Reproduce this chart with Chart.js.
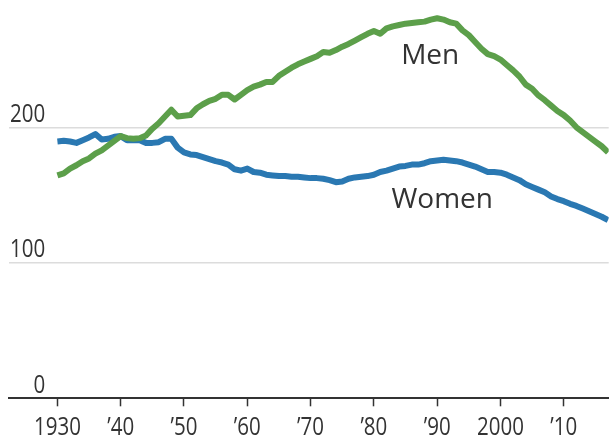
<!DOCTYPE html>
<html><head><meta charset="utf-8">
<script src="https://cdn.jsdelivr.net/npm/chart.js@4"></script>
<style>html,body{margin:0;padding:0;background:#fff}#wrap{width:616px;height:442px;position:relative}</style>
</head><body><div id="wrap"><canvas id="c"></canvas></div>
<script>
const years = [1930,1931,1932,1933,1934,1935,1936,1937,1938,1939,
1940,1941,1942,1943,1944,1945,1946,1947,1948,1949,
1950,1951,1952,1953,1954,1955,1956,1957,1958,1959,
1960,1961,1962,1963,1964,1965,1966,1967,1968,1969,
1970,1971,1972,1973,1974,1975,1976,1977,1978,1979,
1980,1981,1982,1983,1984,1985,1986,1987,1988,1989,
1990,1991,1992,1993,1994,1995,1996,1997,1998,1999,
2000,2001,2002,2003,2004,2005,2006,2007,2008,2009,
2010,2011,2012,2013,2014,2015,2016,2017];
const men = [164.5,166,169.5,172,175,177,180.5,183,186.5,190,
193.5,192,191.5,192,194,199,203,208,213,208,
208.5,209,214,217,219.5,221,224,224,220.5,224,
227.5,230,231.5,233.5,233.5,238,241,244,246.5,248.5,
250.5,252.5,255.5,255,257,259.5,261.5,264,266.5,269,
271,269,273,274.5,275.5,276.5,277,277.5,278,279.5,
280.5,279.5,277.5,276.5,271.5,268,263,258,254,252.5,
250,246,242,237.5,231.5,228.5,223.5,220,216,212,
209,205,200,196.5,193,189.5,186,181.5];
const women = [189.5,190,189.5,188.5,190.5,192.5,195,191,191.5,193,
193.5,190.5,190.5,190.5,188.5,188.5,189,191.5,191.5,185,
181.5,180,179.5,178,176.5,175,174,172.5,169,168,
169.5,167,166.5,165,164.5,164,164,163.5,163.5,163,
162.5,162.5,162,161,159.5,160,162,163,163.5,164,
165,167,168,169.5,171,171.5,172.5,172.5,173.5,175,
175.5,176,175.5,175,174,172.5,171,169,167,167,
166.5,165,163,161,158,156,154,152,149,147,
145.5,143.5,142,140,138,136,134,131.5];
const xTickYears = [1930,1940,1950,1960,1970,1980,1990,2000,2010];
const xTickText = ['1930','\u201940','\u201950','\u201960','\u201970','\u201980','\u201990','2000','\u201910'];
const yTickValues = [0,100,200];
const seriesNames = ['Men','Women'];
const labelYears = [1988.9,1990.8];
const labelValues = [246.7,140.2];

const tickFont = '26px "Open Sans",sans-serif';
const tickSqueeze = 0.79;
const labelFont = '28px "Open Sans",sans-serif';

const labelPlugin = {
  id: 'labels',
  afterDraw(chart) {
    const {ctx, chartArea} = chart;
    const x = chart.scales.x, y = chart.scales.y;
    ctx.save();
    ctx.fillStyle = '#333';
    ctx.textBaseline = 'alphabetic';
    // axis tick labels (condensed look)
    ctx.save();
    ctx.font = tickFont;
    ctx.scale(tickSqueeze, 1);
    ctx.textAlign = 'right';
    y.ticks.forEach(t => {
      ctx.fillText(String(t.value), (chartArea.left + 36) / tickSqueeze, y.getPixelForValue(t.value) - 5.5);
    });
    ctx.textAlign = 'center';
    x.ticks.forEach(t => {
      const i = xTickYears.indexOf(t.value);
      if (i >= 0) ctx.fillText(xTickText[i], x.getPixelForValue(t.value) / tickSqueeze, chartArea.bottom + 36.5);
    });
    ctx.restore();
    // series labels
    ctx.font = labelFont;
    ctx.textAlign = 'center';
    seriesNames.forEach((n, i) => {
      ctx.fillText(n, x.getPixelForValue(labelYears[i]), y.getPixelForValue(labelValues[i]));
    });
    ctx.restore();
  }
};

new Chart(document.getElementById('c'), {
  type: 'line',
  data: {
    datasets: [
      {label: 'Men', data: years.map((yr, i) => ({x: yr, y: men[i]})), borderColor: '#5c9f4a', borderWidth: 6, pointRadius: 0, borderJoinStyle: 'round', tension: 0},
      {label: 'Women', data: years.map((yr, i) => ({x: yr, y: women[i]})), borderColor: '#2a78b2', borderWidth: 6, pointRadius: 0, borderJoinStyle: 'round', tension: 0}
    ]
  },
  options: {
    responsive: true,
    maintainAspectRatio: false,
    animation: false,
    devicePixelRatio: 1,
    layout: {padding: {left: 9.3, right: 7.3, top: 5.35, bottom: 0}},
    plugins: {legend: {display: false}, tooltip: {enabled: false}},
    scales: {
      x: {
        type: 'linear',
        bounds: 'data',
        min: 1922.4,
        max: 2017.1,
        afterBuildTicks: s => { s.ticks = xTickYears.map(v => ({value: v})); },
        afterFit: s => { s.height = 43.7; },
        border: {display: true, color: '#333', width: 2},
        grid: {drawOnChartArea: false, drawTicks: true, tickLength: 8, tickColor: '#333', tickWidth: 1.5},
        ticks: {display: false}
      },
      y: {
        type: 'linear',
        bounds: 'data',
        min: 0,
        max: 290,
        afterBuildTicks: s => { s.ticks = yTickValues.map(v => ({value: v})); },
        afterFit: s => { s.width = 0; },
        border: {display: false},
        grid: {drawTicks: false, lineWidth: 1.5, color: c => (c.tick && c.tick.value === 0) ? 'rgba(0,0,0,0)' : '#dcdcdc'},
        ticks: {display: false}
      }
    }
  },
  plugins: [labelPlugin]
});
</script>
</body></html>
